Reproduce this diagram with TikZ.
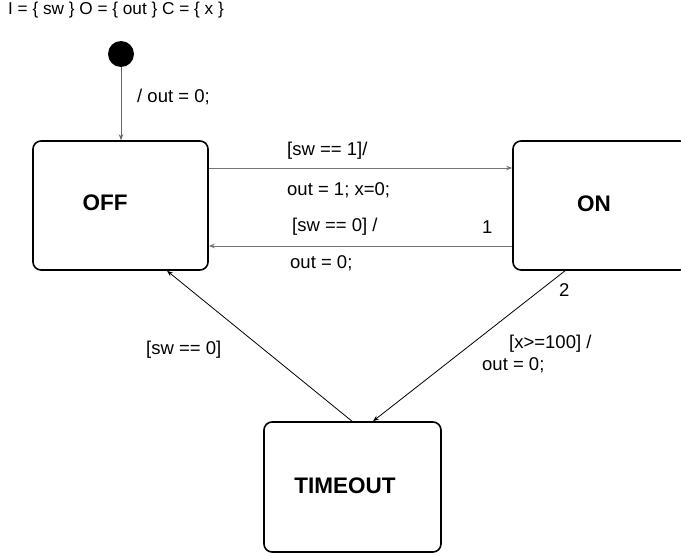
\documentclass[tikz,border=0pt]{standalone}
\usepackage{fontspec}
\setmainfont{Liberation Sans}
\usetikzlibrary{arrows.meta}
\begin{document}
\begin{tikzpicture}[x=1pt,y=-1pt,
  state/.style={draw,line width=1.6pt,rounded corners=8pt,inner sep=0pt},
  slabel/.style={font=\fontsize{22.5}{26}\selectfont\bfseries,inner sep=0pt},
  lbl/.style={font=\fontsize{18.5}{21}\selectfont,inner sep=0pt,anchor=west},
  tr/.style={-{Stealth[length=6pt,width=4.5pt]},line width=0.8pt},
  trg/.style={tr,draw=black!55}]
\useasboundingbox (0,0) rectangle (681,557);
\node[lbl,font=\fontsize{17.2}{20}\selectfont] (hdr) at (8,10) {I = \{ sw \} O = \{ out \} C = \{ x \}};
\node[circle,fill=black,minimum size=26pt,inner sep=0pt] (init) at (121,54) {};
\node[state,minimum width=175pt,minimum height=129pt] (off) at (120.5,205.5) {};
\node[state,minimum width=175pt,minimum height=129pt] (on) at (600.5,205.5) {};
\node[state,minimum width=177pt,minimum height=130pt] (timeout) at (352.5,487) {};
\node[slabel] (offl) at (105,203) {OFF};
\node[slabel] (onl) at (594,204) {ON};
\node[slabel] (tol) at (345,486) {TIMEOUT};
\draw[tr,draw=black!60] (init.south) -- (init |- off.north);
\node[lbl] (l0) at (137,97) {/ out = 0;};
\draw[trg] (off.east |- 0,168) -- (on.west |- 0,168);
\node[lbl] (l1a) at (287,151) {[sw == 1]/};
\node[lbl] (l1b) at (287,190) {out = 1; x=0;};
\draw[trg] (on.west |- 0,246) -- (off.east |- 0,246);
\node[lbl] (l2a) at (292,227) {[sw == 0] /};
\node[lbl] (l2n) at (482,227) {1};
\node[lbl] (l2b) at (290,263) {out = 0;};
\draw[tr] (on.south -| 565,0) -- (timeout.north -| 373,0);
\node[lbl] (l3n) at (559,290) {2};
\node[lbl] (l3a) at (509,344) {[x>=100] /};
\node[lbl] (l3b) at (482,365) {out = 0;};
\draw[tr] (timeout.north -| 352,0) -- (off.south -| 167,0);
\node[lbl] (l4) at (146,350) {[sw == 0]};
\end{tikzpicture}
\end{document}
